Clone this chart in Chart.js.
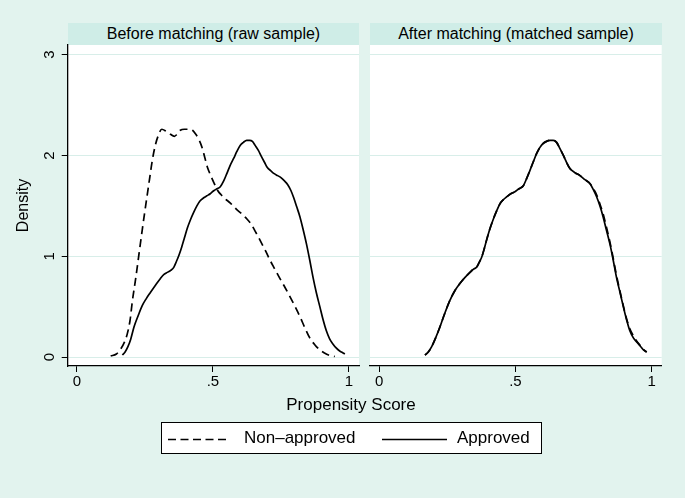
<!DOCTYPE html>
<html>
<head>
<meta charset="utf-8">
<script src="https://cdn.jsdelivr.net/npm/chart.js@4.4.1/dist/chart.umd.min.js"></script>
<style>
  html,body{margin:0;padding:0;}
  body{width:685px;height:498px;background:#E2F3EE;position:relative;overflow:hidden;
       font-family:"Liberation Sans",Arial,Helvetica,sans-serif;color:#000;}
  .hdr{position:absolute;top:23px;height:22px;line-height:22px;background:#CFEDE7;text-align:center;font-size:16px;}
  canvas{position:absolute;top:0;}
  #xtitle{position:absolute;left:251px;width:200px;top:395px;text-align:center;font-size:17px;line-height:20px;}
  #legend{position:absolute;left:161px;top:422px;width:379px;height:30px;background:#fff;border:1px solid #000;}
  #legend svg{position:absolute;left:0;top:0;}
  .lt{position:absolute;top:5px;font-size:17px;line-height:20px;white-space:nowrap;}
</style>
</head>
<body>
<div class="hdr" style="left:68px;width:291px;">Before matching (raw sample)</div>
<div class="hdr" style="left:370px;width:292px;">After matching (matched sample)</div>
<canvas id="cl" width="362" height="400" style="left:0;width:362px;height:400px;"></canvas>
<canvas id="cr" width="323" height="400" style="left:362px;width:323px;height:400px;"></canvas>
<div id="xtitle">Propensity Score</div>
<div id="legend">
  <svg width="379" height="30">
    <line x1="6" y1="16.5" x2="66" y2="16.5" stroke="#000" stroke-width="1.6" stroke-dasharray="8,4.5"/>
    <line x1="220" y1="16.5" x2="285" y2="16.5" stroke="#000" stroke-width="1.6"/>
  </svg>
  <span class="lt" style="left:82px;">Non–approved</span>
  <span class="lt" style="left:295px;">Approved</span>
</div>
<script>
// ---- data ----
const xTicks = [0, 0.5, 1];
const xTickLabels = ['0', '.5', '1'];
const yTicks = [0, 1, 2, 3];
const yTickLabels = ['0', '1', '2', '3'];

// Before matching: non-approved (dashed)
const rawNonApprovedX = [0.124,0.145,0.161,0.175,0.185,0.195,0.204,0.216,0.228,0.240,0.252,0.265,0.277,0.288,0.298,0.312,0.328,0.344,0.358,0.368,0.380,0.395,0.410,0.425,0.437,0.448,0.460,0.470,0.480,0.492,0.505,0.518,0.530,0.545,0.563,0.585,0.606,0.625,0.640,0.655,0.673,0.692,0.710,0.728,0.746,0.765,0.783,0.802,0.820,0.838,0.856,0.875,0.893,0.910,0.925,0.948];
const rawNonApprovedY = [0.01,0.03,0.08,0.15,0.23,0.36,0.56,0.78,1.02,1.26,1.49,1.73,1.95,2.10,2.19,2.26,2.24,2.21,2.19,2.21,2.25,2.26,2.26,2.25,2.21,2.16,2.08,1.98,1.88,1.80,1.72,1.65,1.61,1.57,1.53,1.47,1.42,1.37,1.32,1.25,1.16,1.06,0.96,0.87,0.78,0.69,0.60,0.50,0.40,0.29,0.19,0.12,0.07,0.04,0.02,0.005];

// Before matching: approved (solid)
const rawApprovedX = [0.167,0.177,0.187,0.198,0.210,0.225,0.240,0.255,0.270,0.288,0.307,0.320,0.332,0.345,0.356,0.366,0.375,0.385,0.395,0.406,0.417,0.430,0.441,0.453,0.466,0.478,0.490,0.503,0.515,0.527,0.540,0.551,0.563,0.576,0.588,0.600,0.612,0.624,0.635,0.645,0.655,0.667,0.678,0.690,0.700,0.712,0.725,0.738,0.750,0.762,0.775,0.787,0.797,0.808,0.820,0.832,0.844,0.856,0.868,0.880,0.893,0.905,0.917,0.929,0.941,0.953,0.966,0.976,0.985];
const rawApprovedY = [0.02,0.05,0.10,0.18,0.30,0.41,0.51,0.58,0.64,0.71,0.78,0.82,0.84,0.86,0.89,0.95,1.01,1.09,1.18,1.28,1.36,1.44,1.50,1.55,1.58,1.60,1.62,1.65,1.67,1.69,1.75,1.82,1.90,1.97,2.04,2.10,2.13,2.15,2.15,2.14,2.10,2.05,1.99,1.93,1.88,1.85,1.82,1.80,1.78,1.75,1.71,1.65,1.58,1.49,1.39,1.26,1.12,0.96,0.79,0.64,0.50,0.37,0.26,0.18,0.13,0.09,0.06,0.045,0.03];

// After matching: approved (solid)
const matchedApprovedX = [0.168,0.180,0.192,0.207,0.223,0.240,0.259,0.278,0.296,0.315,0.333,0.345,0.357,0.367,0.376,0.385,0.394,0.406,0.419,0.431,0.443,0.455,0.468,0.483,0.498,0.513,0.529,0.541,0.553,0.566,0.578,0.590,0.602,0.614,0.627,0.639,0.651,0.663,0.676,0.688,0.700,0.718,0.737,0.755,0.774,0.786,0.798,0.810,0.822,0.834,0.847,0.859,0.871,0.884,0.896,0.908,0.920,0.933,0.945,0.958,0.970,0.982];
const matchedApprovedY = [0.02,0.05,0.10,0.19,0.30,0.43,0.56,0.66,0.73,0.79,0.84,0.87,0.89,0.94,0.99,1.07,1.16,1.27,1.37,1.45,1.52,1.56,1.59,1.62,1.64,1.67,1.70,1.77,1.85,1.94,2.02,2.08,2.12,2.14,2.15,2.15,2.13,2.07,2.00,1.93,1.87,1.83,1.80,1.76,1.72,1.66,1.59,1.50,1.39,1.26,1.12,0.96,0.79,0.64,0.50,0.37,0.26,0.19,0.15,0.11,0.07,0.05];

// After matching: non-approved (dashed)
const matchedNonApprovedX = [0.168,0.180,0.192,0.207,0.223,0.240,0.259,0.278,0.296,0.315,0.333,0.345,0.357,0.367,0.376,0.385,0.394,0.406,0.419,0.431,0.443,0.455,0.468,0.483,0.498,0.513,0.529,0.541,0.553,0.566,0.578,0.590,0.602,0.614,0.627,0.639,0.651,0.663,0.676,0.688,0.700,0.718,0.737,0.755,0.774,0.786,0.798,0.810,0.822,0.834,0.847,0.859,0.871,0.884,0.896,0.908,0.920,0.933,0.945,0.958,0.970,0.982];
const matchedNonApprovedY = [0.02,0.05,0.10,0.19,0.30,0.43,0.56,0.66,0.73,0.79,0.84,0.87,0.89,0.94,0.99,1.07,1.16,1.27,1.37,1.45,1.52,1.56,1.59,1.62,1.64,1.67,1.70,1.77,1.85,1.94,2.02,2.08,2.12,2.14,2.15,2.15,2.13,2.07,2.00,1.93,1.87,1.83,1.80,1.76,1.72,1.67,1.61,1.52,1.42,1.29,1.14,0.98,0.81,0.65,0.51,0.38,0.28,0.21,0.16,0.115,0.075,0.05];

// ---- chart ----
const FAMILY = '"Liberation Sans", Arial, Helvetica, sans-serif';
const GRID = '#D8EEE9';

const whiteArea = {
  id: 'whiteArea',
  beforeDraw(chart) {
    const a = chart.chartArea, c = chart.ctx;
    c.save(); c.fillStyle = '#ffffff';
    c.fillRect(a.left, a.top, a.right - a.left, a.bottom - a.top);
    c.restore();
  }
};

function pts(xs, ys) { return xs.map((x, i) => ({x: x, y: ys[i]})); }

function ds(xs, ys, dashed) {
  return {
    data: pts(xs, ys), borderColor: '#000', borderWidth: 1.7,
    borderDash: dashed ? [8, 5] : [], pointRadius: 0, pointHoverRadius: 0,
    fill: false, cubicInterpolationMode: 'monotone', showLine: true
  };
}

function xScale() {
  return {
    type: 'linear', min: -0.034, max: 1.037,
    afterBuildTicks: s => { s.ticks = xTicks.map(v => ({value: v})); },
    afterFit: s => { s.height = 34; },
    grid: {drawOnChartArea: false, drawTicks: true, tickLength: 6, tickColor: '#000', tickWidth: 1},
    border: {display: true, color: '#000', width: 1.3},
    ticks: {
      color: '#000', font: {size: 15, family: FAMILY}, padding: 1,
      maxRotation: 0, minRotation: 0, autoSkip: false,
      callback: (v) => xTickLabels[xTicks.indexOf(v)]
    }
  };
}

function yScale(showAxis) {
  const base = {
    type: 'linear', min: -0.089, max: 3.096,
    afterBuildTicks: s => { s.ticks = yTicks.map(v => ({value: v})); },
    grid: {color: GRID, lineWidth: 1, drawTicks: showAxis, tickLength: 6, tickColor: '#000'},
  };
  if (showAxis) {
    base.afterFit = s => { s.width = 67.7; };
    base.border = {display: true, color: '#000', width: 1.3};
    base.ticks = {
      color: '#000', font: {size: 15, family: FAMILY}, padding: 8,
      minRotation: 90, maxRotation: 90, crossAlign: 'center',
      callback: (v) => yTickLabels[yTicks.indexOf(v)]
    };
    base.title = {display: true, text: 'Density', color: '#000',
                  font: {size: 16, family: FAMILY}, padding: {top: 14, bottom: 0}};
  } else {
    base.afterFit = s => { s.width = 0; };
    base.border = {display: false};
    base.ticks = {display: false};
  }
  return base;
}

function makeChart(id, datasets, showAxis, padding) {
  return new Chart(document.getElementById(id), {
    type: 'line',
    data: {datasets: datasets},
    options: {
      responsive: false, animation: false, devicePixelRatio: 1,
      layout: {padding: padding},
      plugins: {legend: {display: false}, tooltip: {enabled: false}, title: {display: false}},
      scales: {x: xScale(), y: yScale(showAxis)},
      events: []
    },
    plugins: [whiteArea]
  });
}

makeChart('cl', [
  ds(rawApprovedX, rawApprovedY, false),
  ds(rawNonApprovedX, rawNonApprovedY, true)
], true, {left: 0, right: 3, top: 45, bottom: 0});

makeChart('cr', [
  ds(matchedNonApprovedX, matchedNonApprovedY, true),
  ds(matchedApprovedX, matchedApprovedY, false)
], false, {left: 8, right: 23.3, top: 45, bottom: 0});
</script>
</body>
</html>
